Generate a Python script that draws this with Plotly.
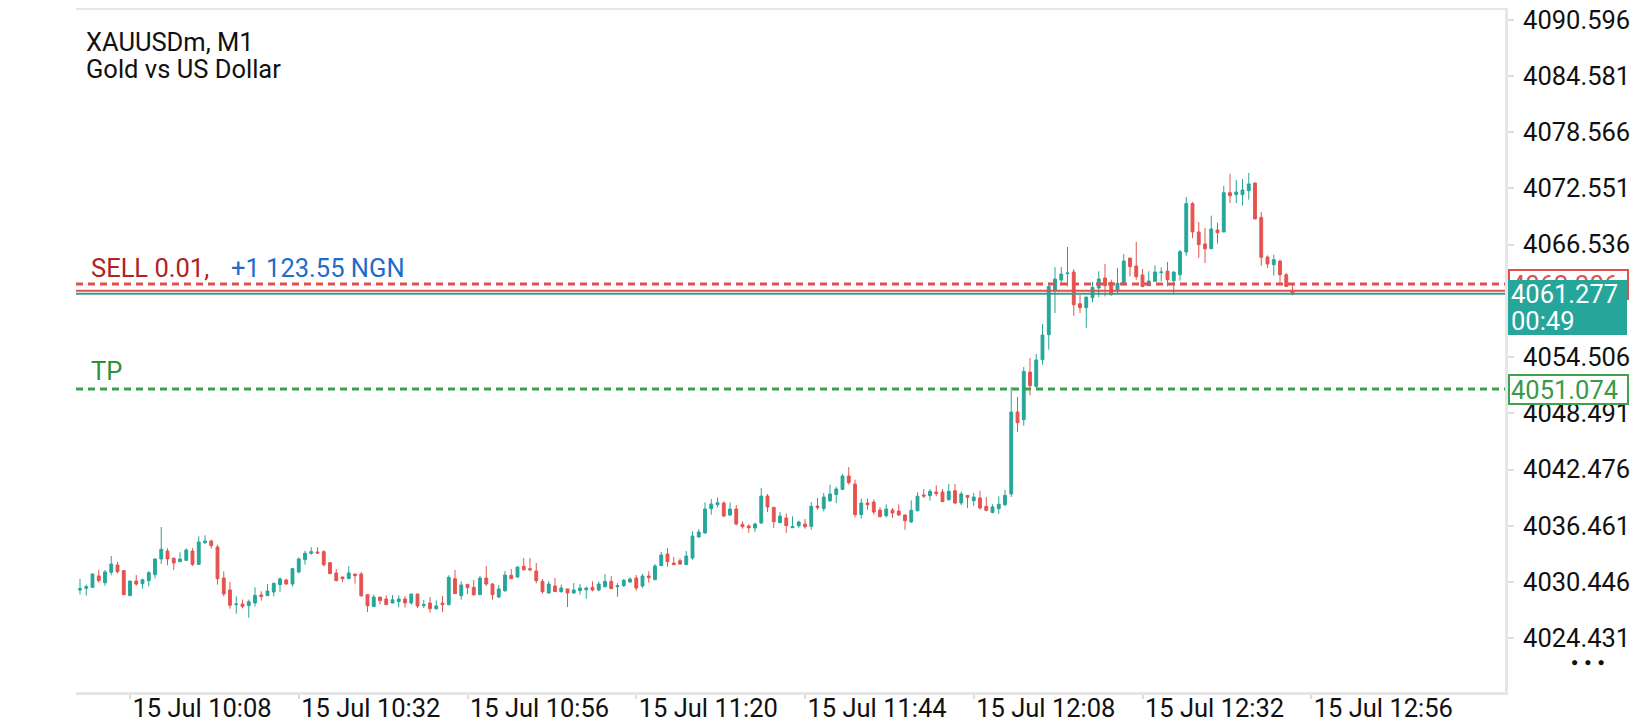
import plotly.graph_objects as go

# M1 bars of XAUUSDm, left to right (x = bar index)
opens = [4029.59, 4029.77, 4029.87, 4031.09, 4030.37, 4031.48, 4032.26, 4031.66, 4028.98, 4030.55,
         4030.27, 4030.59, 4031.23, 4032.91, 4033.76, 4032.98, 4032.62, 4032.76, 4033.76, 4032.33,
         4034.65, 4034.83, 4034.19, 4030.87, 4029.59, 4028.02, 4028.09, 4027.91, 4028.20, 4029.06,
         4028.98, 4029.38, 4030.16, 4030.66, 4030.23, 4031.52, 4032.83, 4033.51, 4033.65, 4033.69,
         4032.51, 4031.41, 4030.98, 4030.80, 4031.30, 4031.30, 4029.09, 4027.81, 4028.84, 4028.63,
         4028.20, 4028.34, 4028.63, 4028.20, 4029.16, 4027.91, 4028.20, 4027.59, 4028.20, 4028.02,
         4030.80, 4028.98, 4030.19, 4029.87, 4029.09, 4030.87, 4030.23, 4028.84, 4029.52, 4031.16,
         4030.98, 4032.12, 4031.87, 4031.62, 4030.52, 4029.27, 4030.02, 4029.41, 4029.70, 4029.27,
         4029.52, 4029.62, 4029.87, 4029.59, 4029.94, 4030.51, 4029.94, 4030.05, 4030.44, 4030.87,
         4030.01, 4031.08, 4030.69, 4032.19, 4033.44, 4032.47, 4032.72, 4032.30, 4033.01, 4035.26,
         4035.68, 4038.29, 4038.71, 4038.89, 4037.61, 4038.25, 4036.61, 4036.43, 4036.22, 4036.75,
         4039.64, 4038.43, 4036.79, 4037.29, 4036.25, 4036.47, 4036.64, 4036.40, 4038.57, 4038.29,
         4039.14, 4039.79, 4040.35, 4041.78, 4040.92, 4037.65, 4038.89, 4039.00, 4038.14, 4037.54,
         4038.14, 4038.04, 4037.61, 4036.86, 4038.07, 4039.75, 4039.68, 4040.07, 4040.07, 4039.25,
         4040.21, 4038.89, 4039.71, 4039.14, 4039.43, 4038.54, 4037.89, 4038.29, 4038.71, 4039.86,
         4048.62, 4047.81, 4052.90, 4051.37, 4054.22, 4056.90, 4061.60, 4062.74, 4063.42, 4063.60,
         4060.21, 4059.78, 4060.85, 4061.89, 4062.96, 4062.49, 4061.60, 4062.24, 4065.09, 4064.24,
         4063.28, 4062.14, 4062.60, 4063.53, 4063.70, 4062.67, 4063.31, 4065.74, 4070.91, 4067.88,
         4066.59, 4066.09, 4068.09, 4067.88, 4072.08, 4071.87, 4071.87, 4072.30, 4073.12, 4069.44,
         4065.20, 4064.38, 4064.77, 4063.31, 4061.60]
highs = [4030.77, 4030.16, 4031.35, 4031.73, 4031.73, 4033.23, 4032.58, 4031.73, 4030.58, 4031.19,
         4030.80, 4031.59, 4032.95, 4036.33, 4034.05, 4033.08, 4033.62, 4034.05, 4034.05, 4035.33,
         4035.44, 4034.97, 4034.44, 4031.59, 4030.45, 4028.91, 4028.56, 4028.56, 4029.88, 4029.45,
         4030.23, 4030.37, 4030.94, 4030.80, 4031.94, 4033.08, 4033.80, 4034.15, 4034.15, 4033.83,
         4032.58, 4031.83, 4030.98, 4032.15, 4031.30, 4031.51, 4029.16, 4029.09, 4028.84, 4029.02,
         4029.05, 4029.02, 4028.95, 4029.18, 4029.18, 4028.52, 4028.84, 4028.48, 4028.95, 4031.16,
         4031.73, 4030.52, 4030.20, 4030.66, 4031.09, 4032.15, 4030.34, 4030.12, 4031.62, 4031.83,
         4032.07, 4033.01, 4033.01, 4032.48, 4030.77, 4030.52, 4030.87, 4030.16, 4029.72, 4030.33,
         4030.23, 4029.94, 4030.51, 4030.51, 4031.30, 4031.09, 4030.33, 4030.76, 4030.94, 4031.19,
         4031.30, 4031.58, 4032.37, 4033.65, 4034.08, 4033.12, 4032.97, 4033.76, 4035.86, 4036.11,
         4038.96, 4039.32, 4039.50, 4039.07, 4038.96, 4038.68, 4036.93, 4036.61, 4036.79, 4040.50,
         4039.85, 4038.45, 4037.93, 4037.79, 4037.47, 4037.00, 4037.18, 4039.00, 4039.43, 4039.96,
         4040.85, 4040.64, 4041.99, 4042.74, 4041.39, 4039.36, 4039.36, 4039.28, 4038.43, 4038.75,
         4038.36, 4038.75, 4037.63, 4039.18, 4040.03, 4040.39, 4040.39, 4040.78, 4040.39, 4040.92,
         4040.92, 4040.11, 4039.72, 4039.96, 4040.21, 4039.53, 4038.75, 4039.61, 4040.32, 4051.30,
         4050.23, 4053.44, 4054.40, 4054.83, 4058.04, 4062.45, 4064.13, 4064.13, 4066.27, 4063.92,
         4061.17, 4060.93, 4062.53, 4063.67, 4064.45, 4062.78, 4064.03, 4065.52, 4065.10, 4066.81,
         4063.92, 4063.67, 4064.31, 4064.10, 4064.67, 4063.62, 4065.95, 4071.62, 4071.08, 4068.95,
         4068.30, 4069.62, 4068.87, 4072.80, 4074.11, 4073.44, 4073.54, 4074.19, 4073.14, 4070.01,
         4065.38, 4065.45, 4064.92, 4063.49, 4062.42]
lows = [4029.09, 4028.98, 4029.80, 4030.37, 4030.05, 4031.16, 4031.37, 4029.05, 4028.95, 4030.05,
        4029.73, 4029.98, 4030.84, 4032.37, 4032.23, 4031.73, 4032.58, 4032.74, 4032.16, 4032.30,
        4034.51, 4034.01, 4030.16, 4028.91, 4027.59, 4027.06, 4027.63, 4026.63, 4027.81, 4028.45,
        4028.95, 4028.91, 4029.38, 4030.16, 4029.98, 4031.37, 4032.30, 4033.37, 4033.44, 4032.09,
        4031.30, 4030.52, 4030.44, 4030.77, 4030.27, 4028.84, 4027.23, 4027.78, 4028.02, 4028.00,
        4028.18, 4027.73, 4027.73, 4028.02, 4027.66, 4027.66, 4027.16, 4027.48, 4027.23, 4027.95,
        4029.18, 4028.55, 4029.16, 4028.95, 4029.07, 4030.02, 4028.55, 4028.73, 4029.37, 4030.78,
        4030.91, 4031.66, 4031.58, 4030.30, 4029.20, 4029.20, 4029.39, 4029.30, 4027.77, 4029.19,
        4029.09, 4028.66, 4029.44, 4029.44, 4029.87, 4029.71, 4028.87, 4029.92, 4030.37, 4029.51,
        4029.83, 4030.37, 4030.67, 4032.17, 4032.08, 4032.28, 4032.26, 4032.28, 4032.83, 4035.22,
        4035.66, 4037.64, 4038.43, 4037.39, 4037.50, 4036.50, 4036.14, 4035.72, 4035.79, 4036.68,
        4037.93, 4036.22, 4036.77, 4035.72, 4036.22, 4036.22, 4036.14, 4036.04, 4038.18, 4038.00,
        4039.00, 4038.89, 4040.28, 4040.85, 4037.36, 4037.22, 4038.18, 4037.65, 4037.36, 4037.36,
        4037.29, 4037.50, 4036.04, 4036.76, 4038.00, 4039.43, 4039.14, 4039.61, 4039.00, 4039.14,
        4038.79, 4038.64, 4038.36, 4038.57, 4038.18, 4038.00, 4037.79, 4037.75, 4038.57, 4039.53,
        4046.49, 4047.16, 4050.41, 4051.19, 4053.69, 4055.29, 4059.21, 4062.42, 4062.06, 4058.93,
        4059.21, 4057.61, 4060.35, 4060.89, 4060.99, 4061.07, 4061.35, 4062.22, 4063.13, 4062.78,
        4061.96, 4062.06, 4062.53, 4062.60, 4062.06, 4061.35, 4062.67, 4065.34, 4067.23, 4065.09,
        4064.56, 4066.07, 4066.63, 4067.86, 4070.98, 4070.98, 4070.73, 4071.33, 4069.25, 4064.27,
        4064.03, 4063.21, 4062.24, 4062.04, 4061.10]
closes = [4029.73, 4029.95, 4031.30, 4030.59, 4031.52, 4032.37, 4031.55, 4029.09, 4030.55, 4030.23,
          4030.69, 4031.44, 4032.91, 4033.94, 4032.91, 4032.48, 4032.91, 4033.87, 4032.33, 4034.72,
          4034.83, 4034.33, 4030.80, 4029.16, 4027.95, 4028.09, 4027.84, 4028.34, 4029.02, 4028.88,
          4029.48, 4030.30, 4030.77, 4030.23, 4031.87, 4032.91, 4033.51, 4033.69, 4033.55, 4032.30,
          4031.34, 4030.59, 4030.80, 4031.41, 4031.12, 4028.98, 4027.91, 4028.84, 4028.45, 4028.02,
          4028.55, 4028.63, 4028.20, 4029.16, 4027.88, 4028.02, 4027.59, 4027.88, 4028.02, 4030.94,
          4029.20, 4030.12, 4029.84, 4029.09, 4030.87, 4030.23, 4029.09, 4029.70, 4031.19, 4030.80,
          4032.05, 4031.76, 4031.76, 4030.59, 4029.41, 4030.23, 4029.41, 4029.80, 4029.27, 4029.59,
          4029.80, 4029.80, 4029.59, 4030.23, 4030.51, 4029.73, 4030.05, 4030.62, 4030.76, 4029.80,
          4031.08, 4030.90, 4032.15, 4033.33, 4032.62, 4032.30, 4032.37, 4033.22, 4035.36, 4035.79,
          4038.25, 4038.78, 4038.93, 4037.50, 4038.25, 4036.64, 4036.36, 4036.25, 4036.64, 4039.64,
          4038.46, 4036.89, 4037.50, 4036.47, 4036.39, 4036.86, 4036.36, 4038.54, 4038.39, 4039.53,
          4039.86, 4040.39, 4041.78, 4041.07, 4037.65, 4038.89, 4038.71, 4037.93, 4037.43, 4038.25,
          4037.82, 4037.61, 4037.00, 4038.11, 4039.61, 4039.64, 4040.14, 4039.89, 4039.04, 4040.14,
          4038.89, 4039.86, 4039.50, 4039.53, 4038.36, 4038.11, 4038.47, 4038.75, 4039.71, 4048.62,
          4047.48, 4052.97, 4051.44, 4054.19, 4056.86, 4062.05, 4062.85, 4063.38, 4063.49, 4060.10,
          4059.78, 4060.92, 4061.96, 4062.85, 4062.14, 4061.17, 4062.39, 4064.77, 4064.17, 4063.10,
          4062.06, 4062.63, 4063.60, 4063.60, 4062.78, 4063.60, 4065.77, 4070.91, 4067.88, 4066.52,
          4066.09, 4068.20, 4067.80, 4072.08, 4071.76, 4072.15, 4072.37, 4073.01, 4069.27, 4065.17,
          4064.45, 4064.92, 4063.31, 4062.06, 4061.277]

# time axis labels sit on these bar positions
tick_bars = [8, 35, 62, 89, 116, 143, 170, 197]
tick_times = ["15 Jul 10:08", "15 Jul 10:32", "15 Jul 10:56", "15 Jul 11:20",
              "15 Jul 11:44", "15 Jul 12:08", "15 Jul 12:32", "15 Jul 12:56"]

price_ticks = [4090.596, 4084.581, 4078.566, 4072.551, 4066.536, 4060.521,
               4054.506, 4048.491, 4042.476, 4036.461, 4030.446, 4024.431]
hidden_tick = 4060.521  # sits under the bid box

sell_price = 4062.306
ask_price = 4061.597
bid_price = 4061.277
tp_price = 4051.074
profit_text = "+1 123.55 NGN"
timer_text = "00:49"

UP = "#26a69a"
DOWN = "#e5534f"
FONT = "Roboto"
FS = 25.5

W, H = 1640, 720
ML, MR, MT, MB = 68, 143, 2, 36


def px(x):
    return (x - ML) / (W - ML - MR)


def py(y):
    return 1 - (y - MT) / (H - MT - MB)


fig = go.Figure()
fig.add_trace(go.Candlestick(
    x=list(range(len(opens))), open=opens, high=highs, low=lows, close=closes,
    increasing=dict(line=dict(color=UP, width=1), fillcolor=UP),
    decreasing=dict(line=dict(color=DOWN, width=1), fillcolor=DOWN),
    whiskerwidth=0, hoverinfo="skip", showlegend=False,
))

dash = "7px,5px"
fig.add_shape(type="line", xref="paper", x0=0, x1=1, y0=sell_price, y1=sell_price,
              line=dict(color="#e0504d", width=3, dash=dash), layer="above")
fig.add_shape(type="line", xref="paper", x0=0, x1=1, y0=ask_price, y1=ask_price,
              line=dict(color="#e0504d", width=2), layer="above")
fig.add_shape(type="line", xref="paper", x0=0, x1=1, y0=bid_price, y1=bid_price,
              line=dict(color="#3f9a8c", width=2), layer="above")
fig.add_shape(type="line", xref="paper", x0=0, x1=1, y0=tp_price, y1=tp_price,
              line=dict(color="#3aa04a", width=3, dash=dash), layer="above")

ann = []
ann.append(dict(x=px(76), y=py(34), text="XAUUSDm, M1", font=dict(size=FS, color="#111")))
ann.append(dict(x=px(76), y=py(61), text="Gold vs US Dollar", font=dict(size=FS, color="#111")))
ann.append(dict(x=px(81), y=py(260), text="SELL 0.01,", font=dict(size=FS, color="#b3221e")))
ann.append(dict(x=px(221), y=py(260), text=profit_text, font=dict(size=FS, color="#1f6cc9")))
ann.append(dict(x=px(81), y=py(363), text="TP", font=dict(size=FS, color="#2e8f3c")))
for a in ann:
    a.update(xref="paper", yref="paper", xanchor="left", yanchor="middle", showarrow=False)

# price boxes on the right scale (the bid box covers most of the sell box)
boxes = [
    dict(y=sell_price, text="%.3f" % sell_price, font=dict(size=FS, color="#e0504d"),
         bgcolor="white", bordercolor="#e0504d", borderwidth=2, borderpad=1,
         width=115, height=25, yanchor="middle", valign="middle"),
    dict(y=bid_price, text="\u00a0", font=dict(size=FS), bgcolor=UP, borderwidth=0,
         borderpad=2, width=115, height=51, yanchor="top", yshift=14),
    dict(y=bid_price, text="%.3f" % bid_price, font=dict(size=FS, color="white"),
         borderpad=2, yanchor="middle"),
    dict(y=bid_price, text=timer_text, font=dict(size=FS, color="white"),
         borderpad=2, yanchor="middle", yshift=-27.5),
    dict(y=tp_price, text="%.3f" % tp_price, font=dict(size=FS, color="#3a9a48"),
         bgcolor="white", bordercolor="#3fa34d", borderwidth=2, borderpad=1,
         width=115, height=25, yanchor="middle", valign="middle"),
]
for b in boxes:
    b.update(xref="paper", yref="y", x=px(1500), xanchor="left", align="left", showarrow=False)
    ann.append(b)

ann.append(dict(xref="paper", yref="paper", x=px(1580), y=py(654),
                text="\u25cf\u00a0\u00a0\u25cf\u00a0\u00a0\u25cf",
                font=dict(size=12, color="#111"), showarrow=False, xanchor="center", yanchor="middle"))

fig.update_layout(
    width=W, height=H,
    margin=dict(l=ML, r=MR, t=MT, b=MB),
    paper_bgcolor="white", plot_bgcolor="white",
    font=dict(family=FONT, color="#111"),
    annotations=ann,
    boxgap=0.35,
    showlegend=False,
)
fig.update_xaxes(
    range=[-0.64, 228], tickmode="array", tickvals=tick_bars, ticktext=tick_times,
    ticks="outside", ticklen=4, tickwidth=2, tickcolor="#dddddd",
    ticklabelposition="outside right", ticklabelstandoff=-9, ticklabeloverflow="allow",
    tickfont=dict(size=FS, color="#111"),
    showline=True, mirror=True, linecolor="#e6e6e6", linewidth=3,
    showgrid=False, zeroline=False, rangeslider=dict(visible=False), automargin=False,
)
fig.update_yaxes(
    side="right", range=[4018.68, 4091.62], tickmode="array", tickvals=price_ticks,
    ticktext=["" if v == hidden_tick else "%.3f" % v for v in price_ticks],
    ticks="outside", ticklen=6, tickwidth=2, tickcolor="#dddddd",
    tickfont=dict(size=FS, color="#111"), ticklabelstandoff=4, ticklabeloverflow="allow",
    showline=True, linecolor="#e6e6e6", linewidth=3,
    showgrid=False, zeroline=False, automargin=False,
)

fig.write_html("out.html")
